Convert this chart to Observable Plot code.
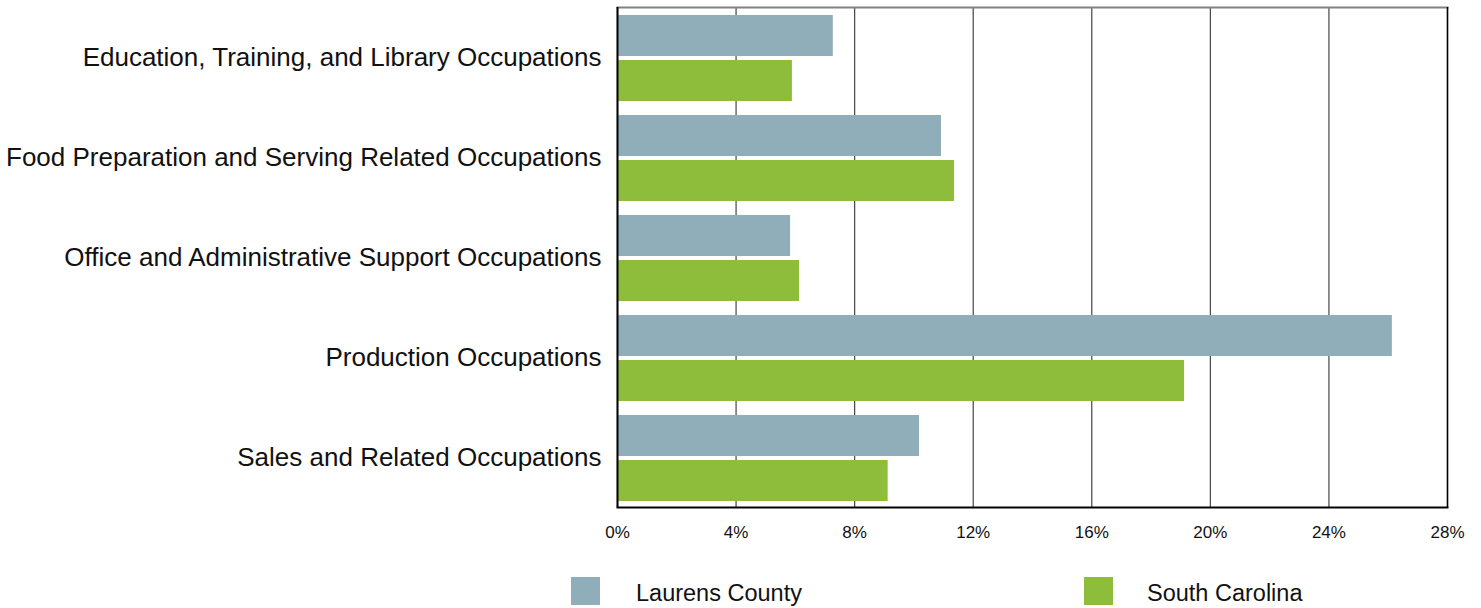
<!DOCTYPE html>
<html>
<head>
<meta charset="utf-8">
<script src="https://cdn.jsdelivr.net/npm/d3@7"></script>
<script src="https://cdn.jsdelivr.net/npm/@observablehq/plot@0.6"></script>
<style>
  html, body { margin: 0; padding: 0; background: #fff; }
  body { width: 1481px; height: 608px; position: relative; overflow: hidden; font-family: "Liberation Sans", Arial, sans-serif; }
  #chart svg { display: block; }
  .legend-item { position: absolute; top: 577px; display: flex; align-items: center; font-size: 23.5px; color: #111; }
  .legend-item .sw { width: 29px; height: 28px; }
  .legend-item .lbl { position: absolute; white-space: nowrap; top: 2px; line-height: 28px; }
</style>
</head>
<body>
<div id="chart"></div>
<div id="legend"></div>
<script>
const categories = [
  "Education, Training, and Library Occupations",
  "Food Preparation and Serving Related Occupations",
  "Office and Administrative Support Occupations",
  "Production Occupations",
  "Sales and Related Occupations"
];
const seriesNames = ["Laurens County", "South Carolina"];
const laurensCounty = [7.28, 10.93, 5.84, 26.14, 10.19];
const southCarolina = [5.90, 11.37, 6.14, 19.13, 9.13];
const xTicks = [0, 4, 8, 12, 16, 20, 24, 28];
const seriesColors = ["#8FAEBA", "#8DBD3B"];

const laurensRows = categories.map((c, i) => ({category: c, series: seriesNames[0], value: laurensCounty[i]}));
const scRows = categories.map((c, i) => ({category: c, series: seriesNames[1], value: southCarolina[i]}));

const chart = Plot.plot({
  width: 1481,
  height: 550,
  marginTop: 7,
  marginBottom: 43,
  marginLeft: 617,
  marginRight: 34,
  style: {fontFamily: "'Liberation Sans', Arial, sans-serif", color: "#111", background: "#fff"},
  x: {domain: [0, 28]},
  y: {domain: categories, padding: 0},
  marks: [
    Plot.ruleX(xTicks, {stroke: "#444", strokeWidth: 1.2}),
    Plot.barX(laurensRows, {x: "value", y: "category", fill: seriesColors[0], insetTop: 8, insetBottom: 51}),
    Plot.barX(scRows, {x: "value", y: "category", fill: seriesColors[1], insetTop: 53, insetBottom: 6}),
    Plot.frame({anchor: "top", stroke: "#808080", strokeWidth: 2}),
    Plot.frame({anchor: "bottom", stroke: "#000", strokeWidth: 2}),
    Plot.ruleX([0], {stroke: "#000", strokeWidth: 2}),
    Plot.ruleX([28], {stroke: "#000", strokeWidth: 1.5}),
    Plot.axisX({ticks: xTicks, tickFormat: d => d + "%", tickSize: 0, tickPadding: 18, fontSize: 17, label: null}),
    Plot.axisY({tickSize: 0, tickPadding: 16, fontSize: 26, label: null})
  ]
});
document.getElementById("chart").appendChild(chart);

const legend = document.getElementById("legend");
const legendPos = [{sw: 571, lbl: 636}, {sw: 1084, lbl: 1147}];
seriesNames.forEach((name, i) => {
  const item = document.createElement("div");
  item.className = "legend-item";
  item.style.left = legendPos[i].sw + "px";
  const sw = document.createElement("div");
  sw.className = "sw";
  sw.style.background = seriesColors[i];
  const lbl = document.createElement("div");
  lbl.className = "lbl";
  lbl.style.left = (legendPos[i].lbl - legendPos[i].sw) + "px";
  lbl.textContent = name;
  item.appendChild(sw);
  item.appendChild(lbl);
  legend.appendChild(item);
});
</script>
</body>
</html>
